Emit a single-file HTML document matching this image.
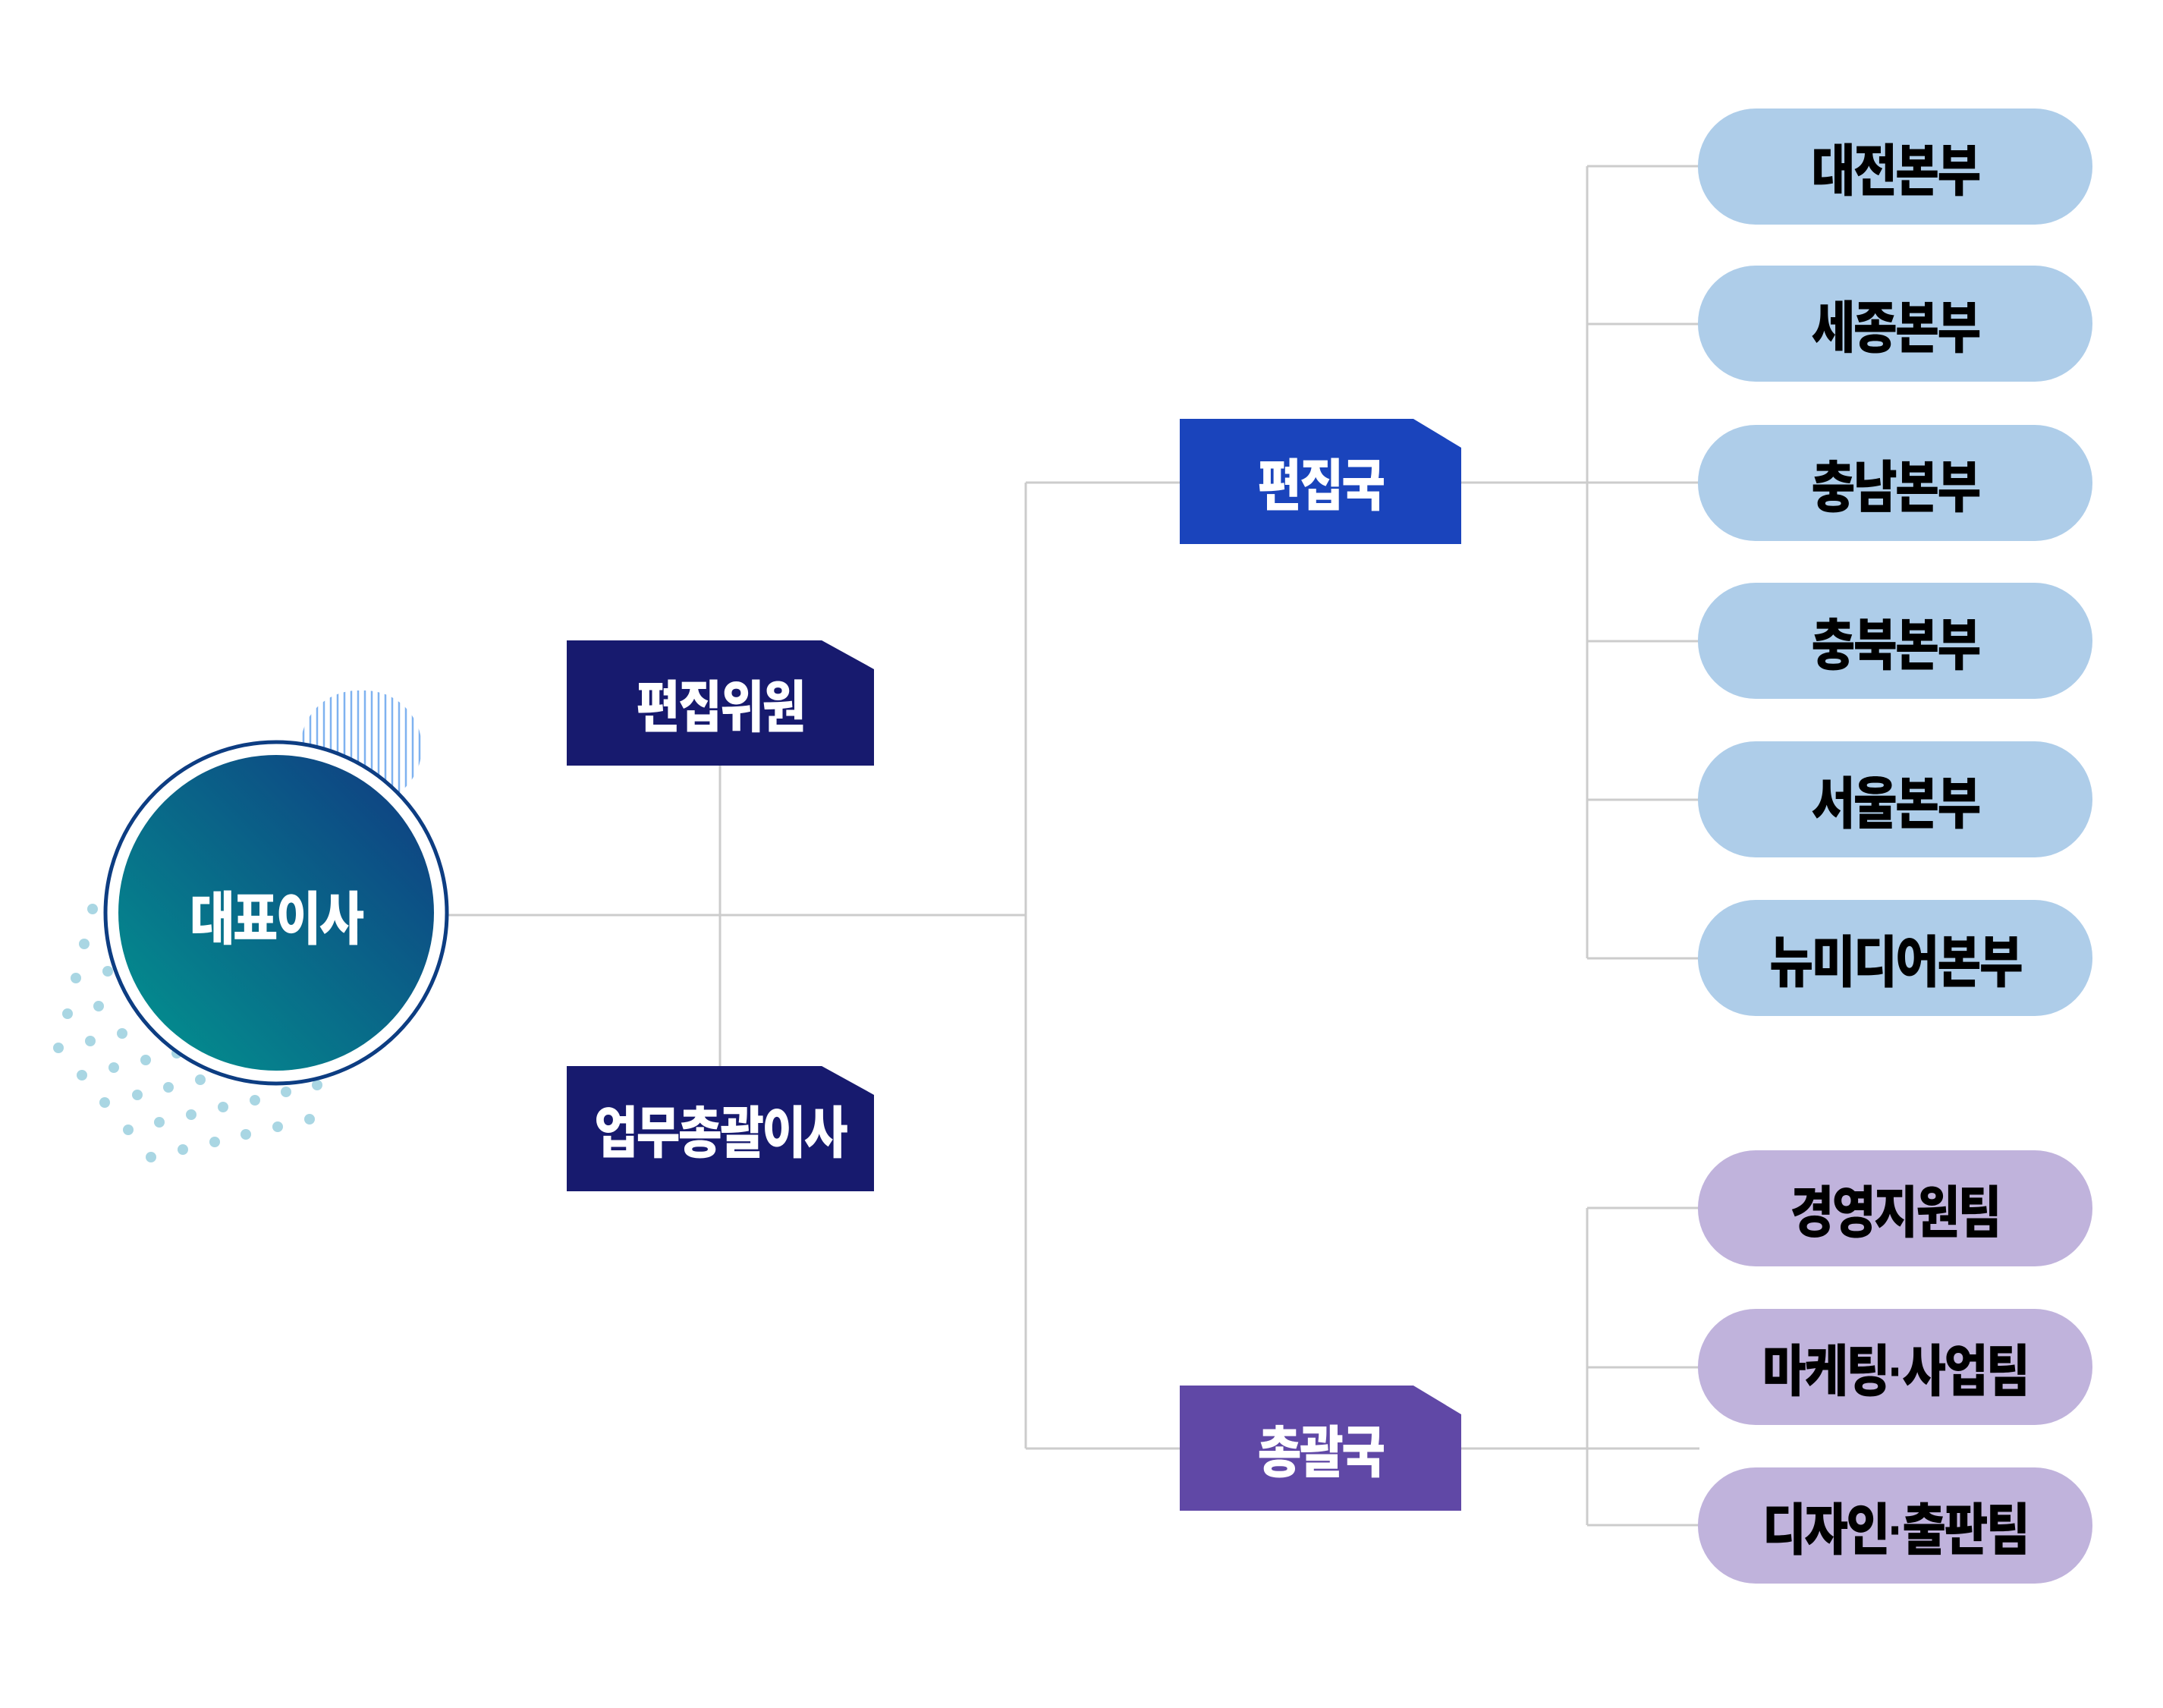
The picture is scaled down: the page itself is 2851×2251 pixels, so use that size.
<!DOCTYPE html>
<html><head><meta charset="utf-8">
<style>
html,body{margin:0;padding:0;background:#fff;}
#c{position:relative;width:2851px;height:2251px;overflow:hidden;background:#fff;font-family:"Liberation Sans","Noto Sans CJK KR",sans-serif;}
.box{position:absolute;display:flex;align-items:center;justify-content:center;color:#fff;font-weight:900;font-size:74px;letter-spacing:-3px;clip-path:polygon(0 0,83% 0,100% 23%,100% 100%,0 100%);}
.pill{position:absolute;left:2238px;width:520px;height:153px;border-radius:76px/76px;display:flex;align-items:center;justify-content:center;color:#000;font-weight:900;font-size:74px;letter-spacing:-3px;}
.b{background:#aecde9}.p{background:#c0b3dc}
.t{display:inline-block;transform:scaleX(0.85);white-space:nowrap;}
</style></head><body><div id="c">
<svg width="2851" height="2251" style="position:absolute;left:0;top:0">
<defs>
<linearGradient id="g" x1="0" y1="1" x2="1" y2="0">
<stop offset="0" stop-color="#02958f"/><stop offset="1" stop-color="#103a82"/>
</linearGradient>
<clipPath id="sc"><rect x="396" y="910" width="160" height="150" rx="75"/></clipPath>
</defs>
<g stroke="#cccccc" stroke-width="3" fill="none">
<line x1="590" y1="1206" x2="1352" y2="1206"/>
<line x1="949" y1="1009" x2="949" y2="1405"/>
<line x1="1352" y1="636" x2="1352" y2="1909"/>
<line x1="1352" y1="636" x2="2240" y2="636"/>
<line x1="1352" y1="1909" x2="2240" y2="1909"/>
<line x1="2092" y1="219" x2="2092" y2="1263"/>
<line x1="2092" y1="219" x2="2240" y2="219"/>
<line x1="2092" y1="427" x2="2240" y2="427"/>
<line x1="2092" y1="845" x2="2240" y2="845"/>
<line x1="2092" y1="1054" x2="2240" y2="1054"/>
<line x1="2092" y1="1263" x2="2240" y2="1263"/>
<line x1="2092" y1="1592" x2="2092" y2="2010"/>
<line x1="2092" y1="1592" x2="2240" y2="1592"/>
<line x1="2092" y1="1802" x2="2240" y2="1802"/>
<line x1="2092" y1="2010" x2="2240" y2="2010"/>
</g>
<g clip-path="url(#sc)" stroke="#7fb2f0" stroke-width="2.5">
<line x1="400" y1="900" x2="400" y2="1070"/><line x1="409" y1="900" x2="409" y2="1070"/><line x1="418" y1="900" x2="418" y2="1070"/><line x1="427" y1="900" x2="427" y2="1070"/><line x1="436" y1="900" x2="436" y2="1070"/><line x1="445" y1="900" x2="445" y2="1070"/><line x1="454" y1="900" x2="454" y2="1070"/><line x1="463" y1="900" x2="463" y2="1070"/><line x1="472" y1="900" x2="472" y2="1070"/><line x1="481" y1="900" x2="481" y2="1070"/><line x1="490" y1="900" x2="490" y2="1070"/><line x1="499" y1="900" x2="499" y2="1070"/><line x1="508" y1="900" x2="508" y2="1070"/><line x1="517" y1="900" x2="517" y2="1070"/><line x1="526" y1="900" x2="526" y2="1070"/><line x1="535" y1="900" x2="535" y2="1070"/><line x1="544" y1="900" x2="544" y2="1070"/><line x1="553" y1="900" x2="553" y2="1070"/>
</g>
<g fill="#a9d6e3">
<circle cx="122" cy="1198" r="7"/><circle cx="111" cy="1244" r="7"/><circle cx="142" cy="1280" r="7"/><circle cx="100" cy="1289" r="7"/><circle cx="130" cy="1326" r="7"/><circle cx="89" cy="1336" r="7"/><circle cx="161" cy="1362" r="7"/><circle cx="119" cy="1372" r="7"/><circle cx="77" cy="1381" r="7"/><circle cx="233" cy="1388" r="7"/><circle cx="192" cy="1397" r="7"/><circle cx="150" cy="1407" r="7"/><circle cx="108" cy="1417" r="7"/><circle cx="264" cy="1423" r="7"/><circle cx="222" cy="1433" r="7"/><circle cx="418" cy="1430" r="7"/><circle cx="377" cy="1439" r="7"/><circle cx="181" cy="1443" r="7"/><circle cx="336" cy="1450" r="7"/><circle cx="294" cy="1459" r="7"/><circle cx="138" cy="1453" r="7"/><circle cx="252" cy="1469" r="7"/><circle cx="210" cy="1479" r="7"/><circle cx="408" cy="1475" r="7"/><circle cx="366" cy="1485" r="7"/><circle cx="169" cy="1489" r="7"/><circle cx="324" cy="1495" r="7"/><circle cx="283" cy="1505" r="7"/><circle cx="241" cy="1515" r="7"/><circle cx="199" cy="1525" r="7"/>
</g>
<circle cx="364" cy="1203" r="225" fill="#fff" stroke="#0d3d82" stroke-width="5"/>
<circle cx="364" cy="1203" r="208" fill="url(#g)"/>
</svg>
<div style="position:absolute;left:156px;top:1150px;width:416px;height:110px;display:flex;align-items:center;justify-content:center;color:#fff;font-weight:900;font-size:76px;letter-spacing:-3px;"><span class="t">대표이사</span></div>
<div class="box" style="left:747px;top:844px;width:405px;height:165px;background:#171a6e"><span class="t">편집위원</span></div>
<div class="box" style="left:747px;top:1405px;width:405px;height:165px;background:#171a6e"><span class="t">업무총괄이사</span></div>
<div class="box" style="left:1555px;top:552px;width:371px;height:165px;background:#1a44bc"><span class="t">편집국</span></div>
<div class="box" style="left:1555px;top:1826px;width:371px;height:165px;background:#6048a6"><span class="t">총괄국</span></div>
<div class="pill b" style="top:143px"><span class="t">대전본부</span></div>
<div class="pill b" style="top:350px"><span class="t">세종본부</span></div>
<div class="pill b" style="top:560px"><span class="t">충남본부</span></div>
<div class="pill b" style="top:768px"><span class="t">충북본부</span></div>
<div class="pill b" style="top:977px"><span class="t">서울본부</span></div>
<div class="pill b" style="top:1186px"><span class="t">뉴미디어본부</span></div>
<div class="pill p" style="top:1516px"><span class="t">경영지원팀</span></div>
<div class="pill p" style="top:1725px"><span class="t">마케팅·사업팀</span></div>
<div class="pill p" style="top:1934px"><span class="t">디자인·출판팀</span></div>
</div></body></html>
